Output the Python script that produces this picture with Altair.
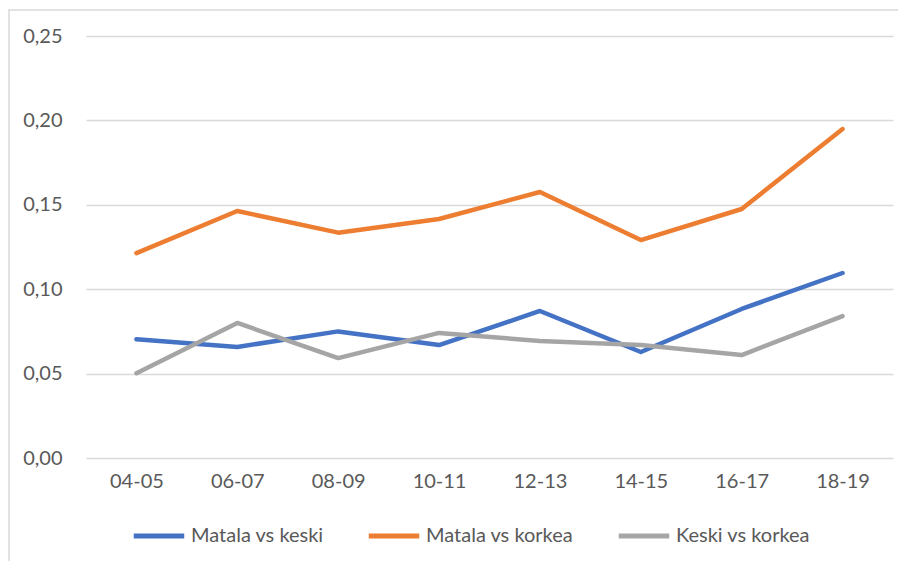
import altair as alt
import pandas as pd

categories = ["04-05", "06-07", "08-09", "10-11", "12-13", "14-15", "16-17", "18-19"]
series_names = ["Matala vs keski", "Matala vs korkea", "Keski vs korkea"]
matala_vs_keski = [0.0703, 0.0658, 0.0750, 0.0669, 0.0871, 0.0628, 0.0883, 0.1096]
matala_vs_korkea = [0.1214, 0.1463, 0.1335, 0.1416, 0.1576, 0.1291, 0.1475, 0.1949]
keski_vs_korkea = [0.0502, 0.0800, 0.0592, 0.0741, 0.0693, 0.0669, 0.0610, 0.0841]
colors = ["#4472C4", "#ED7D31", "#A5A5A5"]
y_ticks = [0.0, 0.05, 0.10, 0.15, 0.20, 0.25]

rows = []
for name, vals in zip(series_names, [matala_vs_keski, matala_vs_korkea, keski_vs_korkea]):
    for i, (c, v) in enumerate(zip(categories, vals)):
        rows.append({"kausi": c, "sarja": name, "arvo": v, "s": series_names.index(name)})
df = pd.DataFrame(rows)

W, H = 807, 422
FONT = "Lato"
TXT = "#595959"

lines = alt.Chart(df).mark_line(strokeWidth=4.5, strokeCap="round", strokeJoin="round").encode(
    x=alt.X("kausi:O", sort=categories, title=None,
            scale=alt.Scale(type="point", padding=0.5),
            axis=alt.Axis(domain=False, ticks=False, labelAngle=0, labelPadding=13,
                          labelFontSize=20, labelColor=TXT, labelFont=FONT, grid=False)),
    y=alt.Y("arvo:Q", title=None,
            scale=alt.Scale(domain=[0, 0.25], nice=False, zero=True),
            axis=alt.Axis(values=y_ticks, domain=False, ticks=False, labelPadding=24,
                          labelExpr="replace(format(datum.value, '.2f'), '.', ',')",
                          labelFontSize=20, labelColor=TXT, labelFont=FONT,
                          grid=True, gridColor="#D9D9D9", gridWidth=1.5)),
    color=alt.Color("sarja:N", sort=series_names,
                    scale=alt.Scale(domain=series_names, range=colors),
                    legend=alt.Legend(title=None, orient="none", direction="horizontal",
                                      legendX=45, legendY=472,
                                      symbolType="stroke", symbolSize=2550, symbolStrokeWidth=5,
                                      labelFontSize=20, labelColor=TXT, labelFont=FONT,
                                      labelOffset=4, columnPadding=34, symbolOffset=0)),
    order=alt.Order("s:Q"),
)

border_df = pd.DataFrame({"k": [0]})
border = alt.Chart(border_df).mark_rect(fill=None, stroke="#D9D9D9", strokeWidth=1.5).encode(
    x=alt.value(-77), x2=alt.value(W + 60), y=alt.value(-26), y2=alt.value(H + 300)
)

chart = alt.layer(border, lines).properties(
    width=W, height=H,
    background="white",
    autosize=alt.AutoSizeParams(type="none"),
    padding={"left": 78, "top": 28, "right": 5, "bottom": 103},
).configure_view(strokeWidth=0, stroke="transparent")

chart.save("out.html", embed_options={"renderer": "svg", "actions": False})
